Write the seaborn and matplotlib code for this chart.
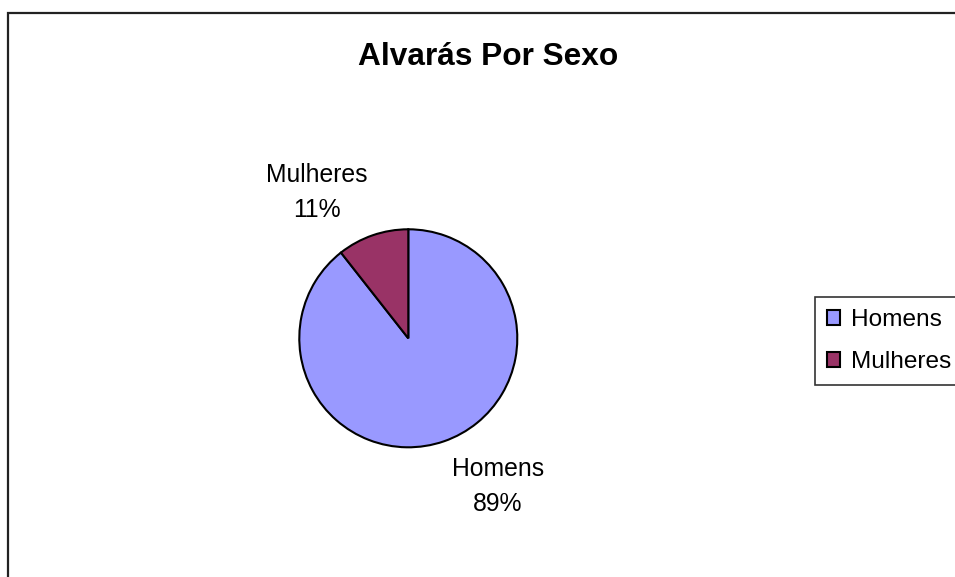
import matplotlib
matplotlib.use("Agg")
import matplotlib.pyplot as plt
from matplotlib.patches import Rectangle
import seaborn as sns

# dados
categorias = ["Homens", "Mulheres"]
percentuais = [89.4, 10.6]
cores = ["#9999FF", "#993366"]
titulo = "Alvarás Por Sexo"

sns.set_style("white")
plt.rcParams["font.family"] = ["Liberation Sans", "DejaVu Sans"]
plt.rcParams["text.color"] = "black"

W, H = 955, 577
fig = plt.figure(figsize=(W / 100, H / 100), dpi=100)

# moldura do grafico (estilo Excel, cortada a direita e embaixo)
fig.patches.append(Rectangle((8 / W, -0.1), 2, 1 - 13 / H + 0.1, transform=fig.transFigure,
                             fill=False, edgecolor="#222222", linewidth=1.6))

# eixo quadrado para a pizza
raio = 109
cx, cy = 408.3, H - 338.3
ax = fig.add_axes([(cx - raio) / W, (cy - raio) / H, 2 * raio / W, 2 * raio / H])
wedges, _ = ax.pie(percentuais, colors=cores, startangle=90, counterclock=False,
                   radius=1, wedgeprops=dict(edgecolor="black", linewidth=1.5))
ax.set_xlim(-1, 1)
ax.set_ylim(-1, 1)
ax.set_aspect("equal")
ax.axis("off")

# rotulos das fatias
pos_rotulos = [(0.82, -1.36), (-0.84, 1.34)]
for nome, pct, (x, y) in zip(categorias, percentuais, pos_rotulos):
    ax.text(x, y, f"{nome}\n{round(pct)}%", ha="center", va="center", fontsize=17.8,
            linespacing=1.6, color="black", clip_on=False)

fig.text(488 / W, 1 - 57 / H, titulo, ha="center", va="center",
         fontsize=22.8, fontweight="bold", color="black")

leg = fig.legend(wedges, categorias, loc="upper left", bbox_to_anchor=(815 / W, 1 - 297 / H),
                 fontsize=17.6, frameon=True, fancybox=False, edgecolor="black",
                 handlelength=0.56, handleheight=0.56, handletextpad=0.45,
                 borderpad=0.48, labelspacing=0.83, borderaxespad=0)
leg.get_frame().set_linewidth(1.2)
for t in leg.get_texts():
    t.set_color("black")

fig.savefig("out.png", dpi=100, facecolor="white")
